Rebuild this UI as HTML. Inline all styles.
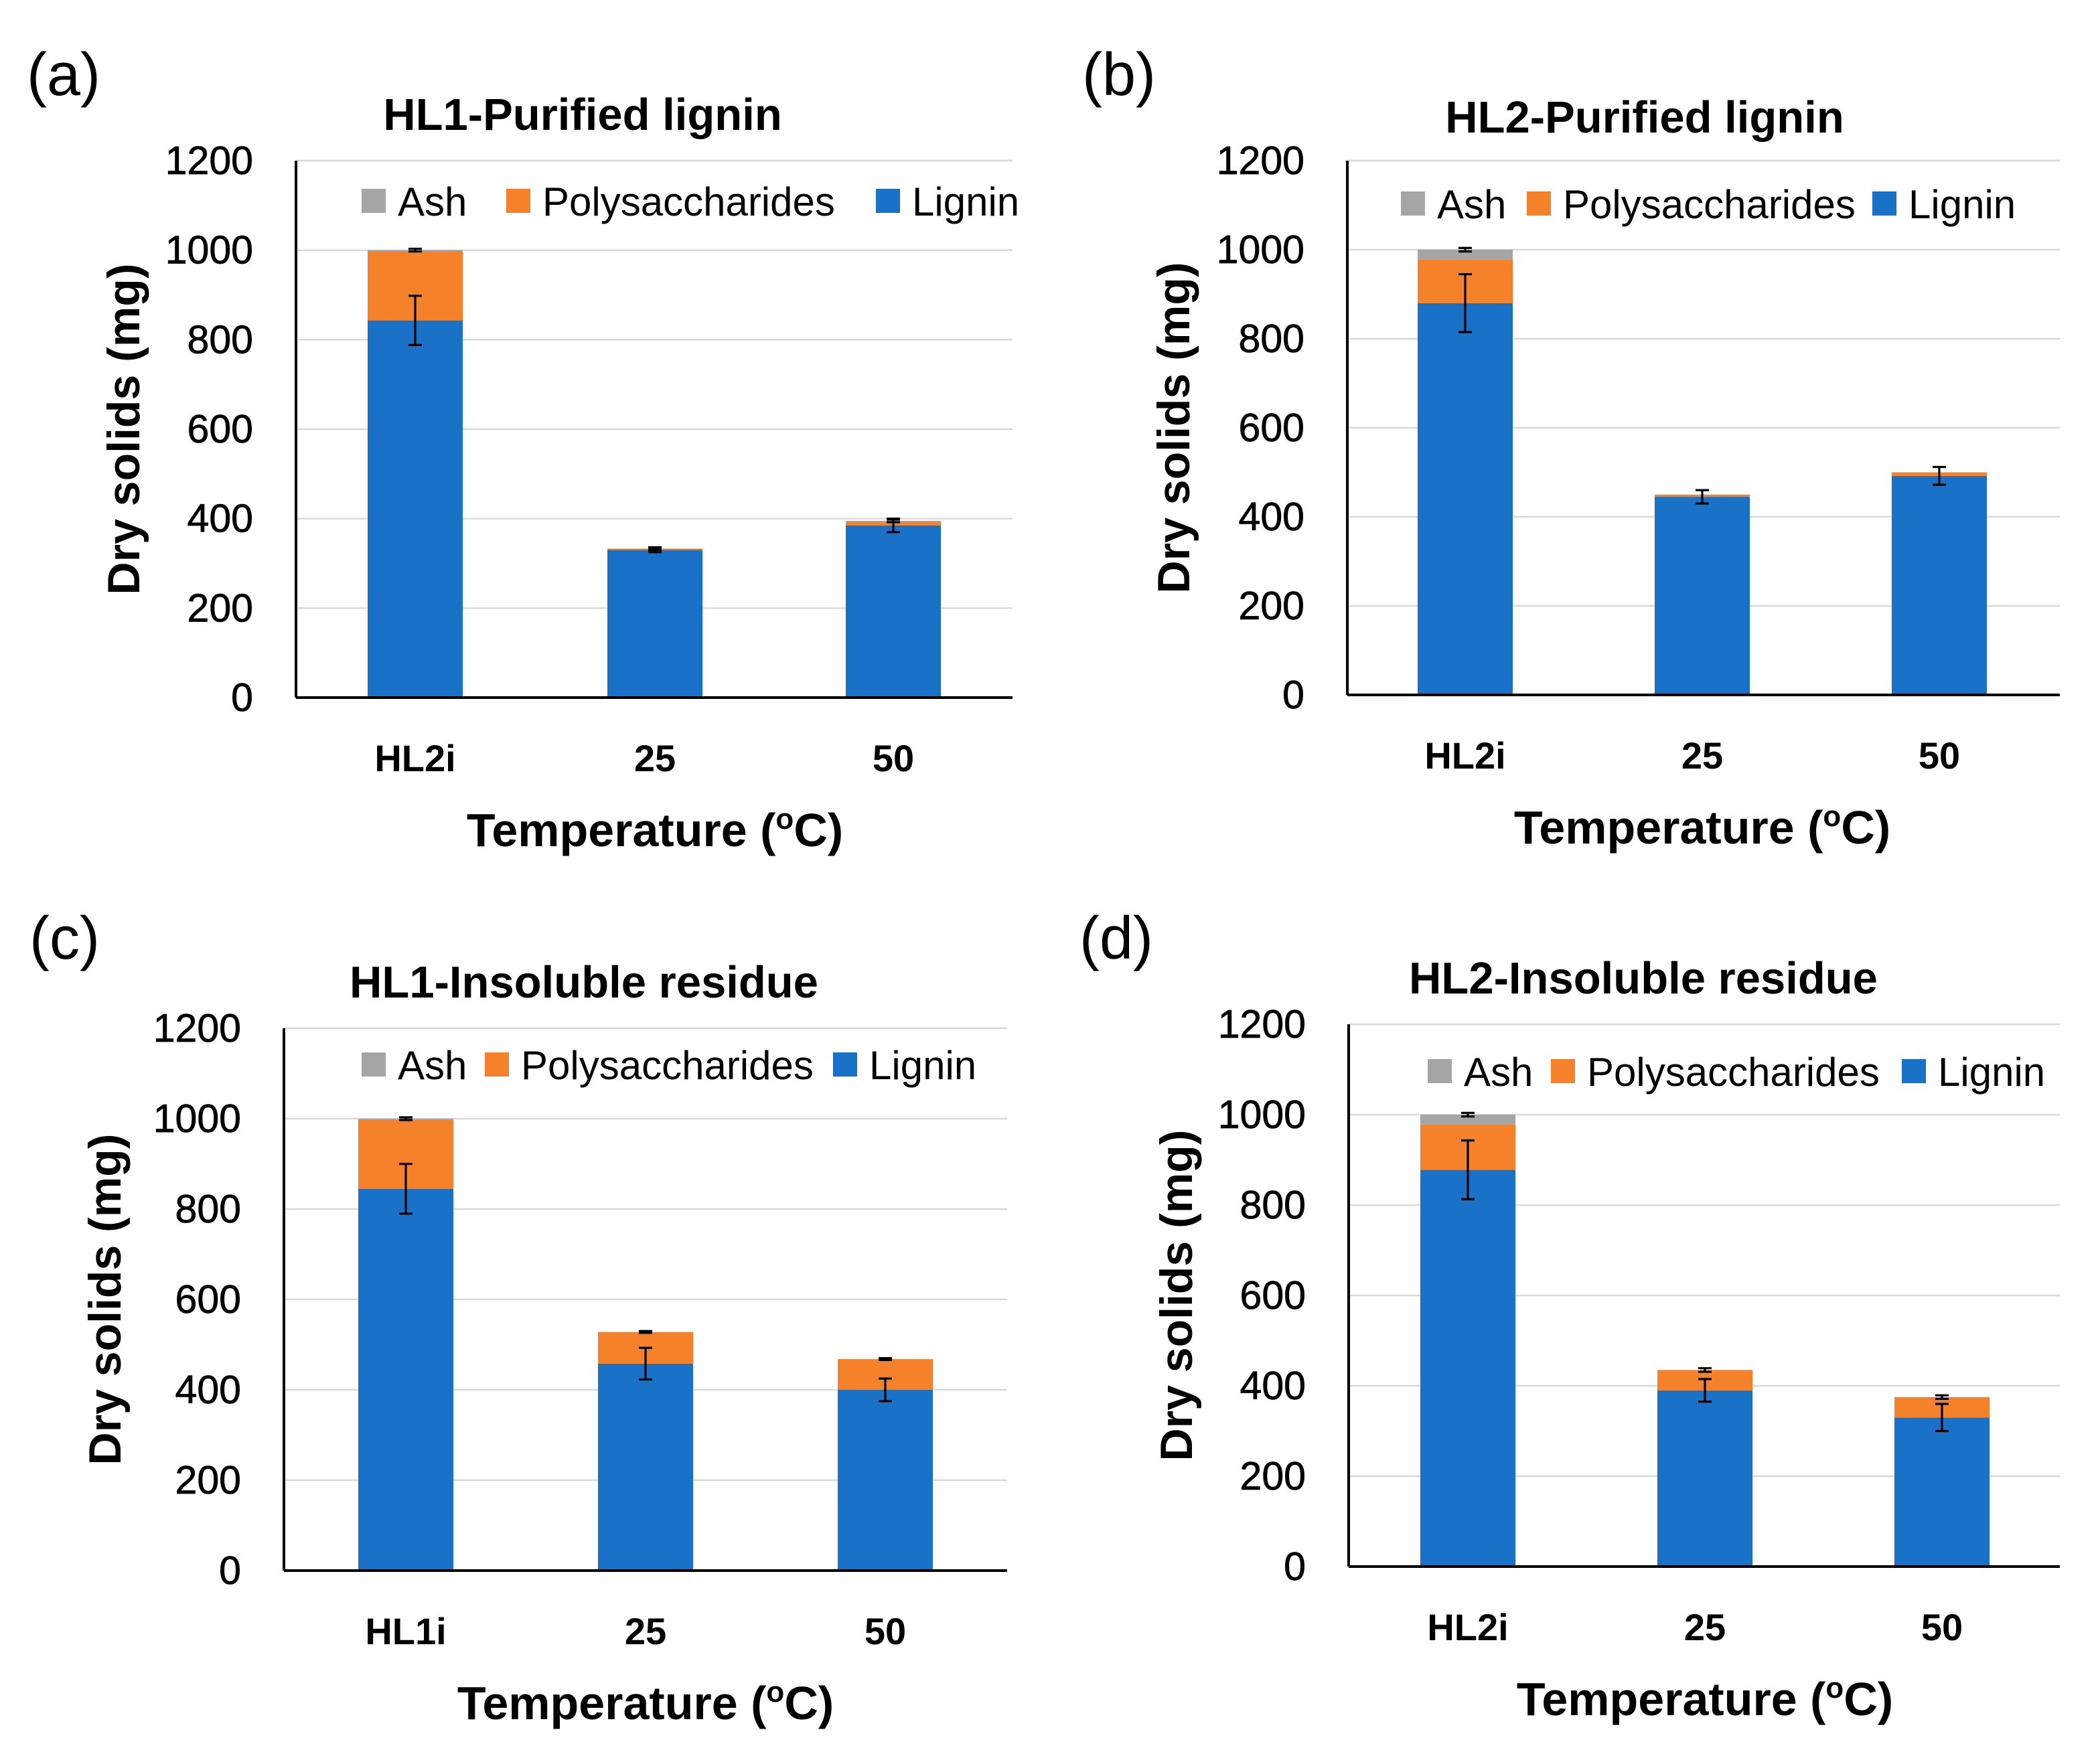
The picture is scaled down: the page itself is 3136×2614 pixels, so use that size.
<!DOCTYPE html>
<html><head><meta charset="utf-8">
<style>
html,body{margin:0;padding:0;background:#fff;}
svg{display:block;}
text{font-family:"Liberation Sans",Arial,sans-serif;fill:#000;}
</style></head>
<body>
<svg id="fig" width="3136" height="2614" viewBox="0 0 1568 1307" xmlns="http://www.w3.org/2000/svg"></svg>
<script>
// ---- data ----
const titles = ["HL1-Purified lignin","HL2-Purified lignin","HL1-Insoluble residue","HL2-Insoluble residue"];
const panelLabels = ["(a)","(b)","(c)","(d)"];
const categoriesA = ["HL2i","25","50"];
const categoriesB = ["HL2i","25","50"];
const categoriesC = ["HL1i","25","50"];
const categoriesD = ["HL2i","25","50"];
const ligninA = [843,330,385];
const polyA = [155,3,8];
const ashA = [2,0,2];
const ligErrA = [55,5,15];
const topErrA = [3,3,3];
const ligninB = [880,445,492];
const polyB = [98,5,8];
const ashB = [22,0,0];
const ligErrB = [65,15,20];
const topErrB = [4,0,0];
const ligninC = [845,458,400];
const polyC = [153,70,68];
const ashC = [2,0,0];
const ligErrC = [55,35,25];
const topErrC = [3,2,2];
const ligninD = [878,390,330];
const polyD = [100,45,45];
const ashD = [22,0,0];
const ligErrD = [65,25,30];
const topErrD = [4,4,4];
const yTicks = [0,200,400,600,800,1000,1200];
const legendLabels = ["Ash","Polysaccharides","Lignin"];

// ---- layout ----
const panels = [
 {ax:221,y0:521,y1:120,right:756,centers:[310,489,667],tx:435,ty:85,ly:150,lsq:[270,378,654],ytx:92,lab:[20,55],cat:categoriesA,lig:ligninA,poly:polyA,ash:ashA,le:ligErrA,te:topErrA},
 {ax:1006,y0:519,y1:120,right:1538,centers:[1094,1271,1448],tx:1228,ty:87,ly:152,lsq:[1046,1140,1398],ytx:876,lab:[808,55],cat:categoriesB,lig:ligninB,poly:polyB,ash:ashB,le:ligErrB,te:topErrB},
 {ax:212,y0:1173,y1:768,right:752,centers:[303,482,661],tx:436,ty:733,ly:795,lsq:[270,362,622],ytx:78,lab:[22,700],cat:categoriesC,lig:ligninC,poly:polyC,ash:ashC,le:ligErrC,te:topErrC},
 {ax:1007,y0:1170,y1:765,right:1538,centers:[1096,1273,1450],tx:1227,ty:730,ly:800,lsq:[1066,1158,1420],ytx:878,lab:[806,700],cat:categoriesD,lig:ligninD,poly:polyD,ash:ashD,le:ligErrD,te:topErrD}
];
const colors = {ash:"#a5a5a5",poly:"#f5822b",lig:"#1a72c8"};
const NS="http://www.w3.org/2000/svg";
const svg=document.getElementById('fig');
function mk(tag,attrs,parent,txt){const e=document.createElementNS(NS,tag);for(const k in attrs)e.setAttribute(k,attrs[k]);if(txt!==undefined)e.textContent=txt;(parent||svg).appendChild(e);return e;}

panels.forEach((p,pi)=>{
 const g=mk('g',{});
 
 
 const y=v=>p.y0-(v/1200)*(p.y0-p.y1);
 yTicks.forEach(t=>{
  if(t>0){const l=mk('line',{x1:p.ax,x2:p.right,y1:y(t),y2:y(t),stroke:'#d9d9d9','stroke-width':1.2},g);
   }
  const tx=mk('text',{x:p.ax-32,y:y(t)+10,'text-anchor':'end','font-size':29.5,stroke:'#000','stroke-width':0.4},g,String(t));
  
 });
 const bw=71;
 p.cat.forEach((c,i)=>{
  const cx=p.centers[i];
  const segs=[['lig',0,p.lig[i]],['poly',p.lig[i],p.lig[i]+p.poly[i]],['ash',p.lig[i]+p.poly[i],p.lig[i]+p.poly[i]+p.ash[i]]];
  segs.forEach(s=>{
   if(s[2]-s[1]<=0)return;
   const r=mk('rect',{x:cx-bw/2,y:y(s[2]),width:bw,height:y(s[1])-y(s[2]),fill:colors[s[0]]},g);
   
   
  });
  const errs=[[p.lig[i],p.le[i]],[p.lig[i]+p.poly[i]+p.ash[i],p.te[i]]];
  errs.forEach(e=>{
   if(e[1]<=0)return;
   const eg=mk('g',{stroke:'#000','stroke-width':1.6},g);
   
   mk('line',{x1:cx,x2:cx,y1:y(e[0]-e[1]),y2:y(e[0]+e[1])},eg);
   mk('line',{x1:cx-5,x2:cx+5,y1:y(e[0]-e[1]),y2:y(e[0]-e[1])},eg);
   mk('line',{x1:cx-5,x2:cx+5,y1:y(e[0]+e[1]),y2:y(e[0]+e[1])},eg);
  });
  const ct=mk('text',{x:cx,y:p.y0+55,'text-anchor':'middle','font-size':28,'font-weight':'bold'},g,c);
  
 });
 const ya=mk('line',{x1:p.ax,x2:p.ax,y1:p.y1,y2:p.y0,stroke:'#000','stroke-width':2},g);
 
 const xa=mk('line',{x1:p.ax,x2:p.right,y1:p.y0,y2:p.y0,stroke:'#000','stroke-width':2},g);
 
 const t=mk('text',{x:p.tx,y:p.ty+12,'text-anchor':'middle','font-size':33.5,'font-weight':'bold'},g,titles[pi]);
 
 const pl=mk('text',{x:p.lab[0],y:p.lab[1]+16,'font-size':45},g,panelLabels[pi]);
 
 const xt=mk('text',{x:p.centers[1],y:p.y0+111,'text-anchor':'middle','font-size':35,'font-weight':'bold'},g);
 
 xt.innerHTML='Temperature (<tspan font-size="22" dy="-13">o</tspan><tspan dy="13">C)</tspan>';
 const ymid=(p.y0+p.y1)/2;
 const yt=mk('text',{x:p.ytx,y:ymid,'text-anchor':'middle','font-size':34,'font-weight':'bold',transform:`rotate(-90 ${p.ytx} ${ymid}) translate(0 12)`},g,'Dry solids (mg)');
 
 const lc=[colors.ash,colors.poly,colors.lig];
 legendLabels.forEach((L,li)=>{
  const lg=mk('g',{},g);
  
  
  mk('rect',{x:p.lsq[li],y:p.ly-9,width:18,height:18,fill:lc[li]},lg);
  mk('text',{x:p.lsq[li]+27,y:p.ly+11,'font-size':30},lg,L);
 });
});
</script>
</body></html>
